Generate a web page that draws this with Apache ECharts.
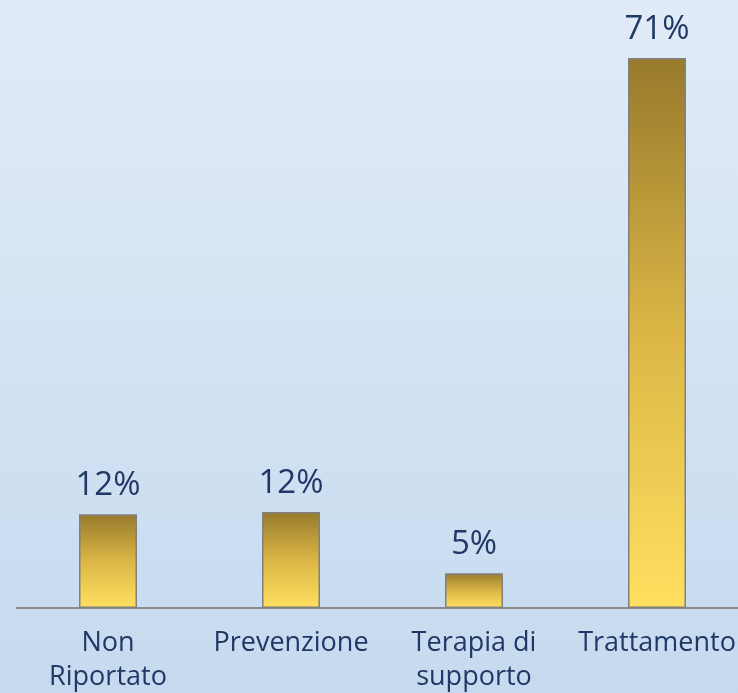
<!DOCTYPE html>
<html><head><meta charset="utf-8">
<script src="https://cdn.jsdelivr.net/npm/echarts@6/dist/echarts.min.js"></script>
<style>html,body{margin:0;padding:0;}#c{width:738px;height:693px;}</style>
</head><body><div id="c"></div>
<script>
const categories = ['Non\nRiportato', 'Prevenzione', 'Terapia di\nsupporto', 'Trattamento'];
const values = [12.1, 12.4, 4.5, 71.0];

const chart = echarts.init(document.getElementById('c'), null, {renderer: 'canvas'});
const textColor = '#1f3866';
const font = '"Open Sans", Lato, sans-serif';
chart.setOption({
  backgroundColor: new echarts.graphic.LinearGradient(0, 0, 0, 1, [
    {offset: 0, color: '#e1ebf7'},
    {offset: 1, color: '#c6daef'}
  ]),
  animation: false,
  grid: {left: 16.5, right: -10.5, top: 0, bottom: 85, containLabel: false, outerBoundsMode: 'none'},
  xAxis: {
    type: 'category',
    data: categories,
    axisTick: {show: false},
    axisLine: {lineStyle: {color: '#8c8c8c', width: 2}},
    axisLabel: {color: textColor, fontFamily: font, fontSize: 27, lineHeight: 34, margin: 18, interval: 0, hideOverlap: false}
  },
  yAxis: {
    type: 'value', min: 0, max: 78.5,
    show: false, splitLine: {show: false}
  },
  series: [{
    type: 'bar',
    data: values,
    barWidth: 58,
    itemStyle: {
      color: new echarts.graphic.LinearGradient(0, 0, 0, 1, [
        {offset: 0, color: '#977a2c'},
        {offset: 0.5, color: '#dbb646'},
        {offset: 1, color: '#ffe060'}
      ]),
      borderColor: '#808080',
      borderWidth: 1.5
    },
    label: {
      show: true, position: 'top', distance: 12,
      color: textColor, fontFamily: font, fontSize: 33,
      formatter: p => Math.round(p.value) + '%'
    }
  }]
});
</script>
</body></html>
